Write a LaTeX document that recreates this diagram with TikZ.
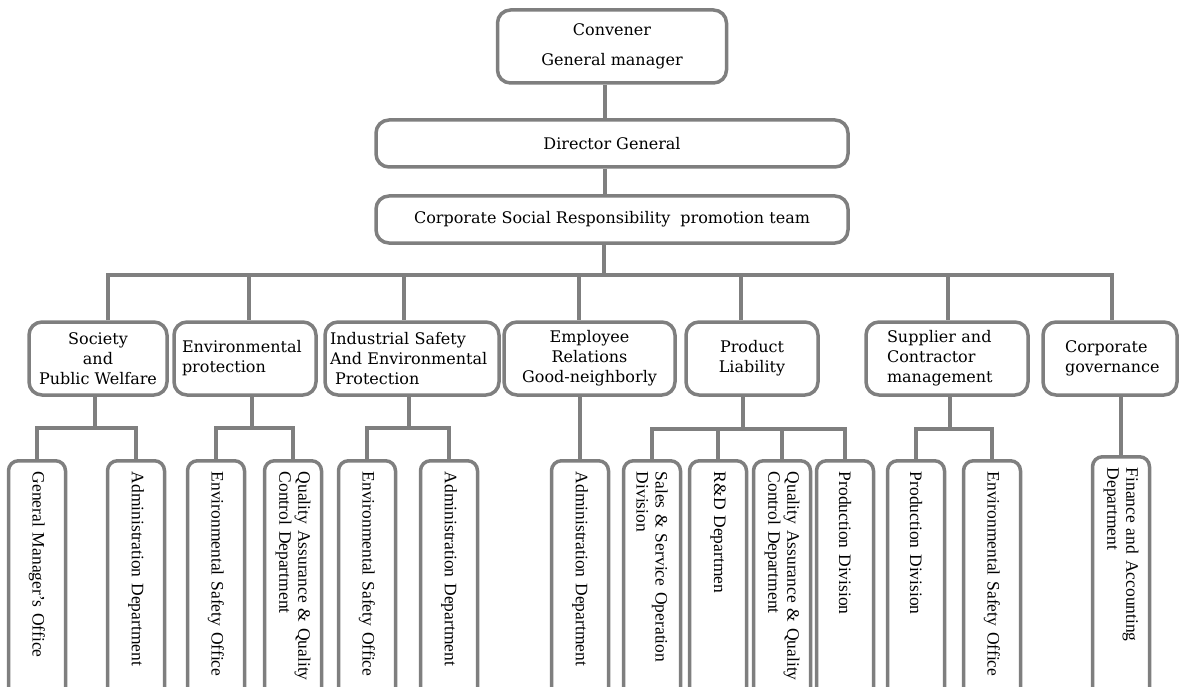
\documentclass[tikz,border=0pt]{standalone}
\usepackage{fontspec}
\newfontfamily\boxfont{DejaVu Serif}
\newfontfamily\deptfont{Liberation Serif}
\definecolor{linegray}{HTML}{7F7F7F}
\tikzset{
  unit/.style={draw=linegray, line width=3.5pt, rounded corners=13pt, fill=white, inner sep=0pt,
    minimum height=73pt, align=center, font=\boxfont\fontsize{16}{20}\selectfont},
  link/.style={draw=linegray, line width=3.8pt},
  dept/.style={unit, rounded corners=10pt, rotate=-90, anchor=west, minimum width=260pt,
    minimum height=57pt, text width=238pt, inner xsep=11pt, align=left,
    font=\deptfont\fontsize{17.5}{19}\selectfont},
}

\begin{document}
\begin{tikzpicture}[x=1pt,y=-1pt]
    \useasboundingbox (0,0) rectangle (1183,687);
    \clip (0,0) rectangle (1183,687);
    % top of the chart
    \node[unit, minimum width=229pt] (conv) at (612,46.5) {Convener\\[10pt]General manager};
    \node[unit, minimum width=472pt, minimum height=47pt] (dg) at (612,143.5) {Director General};
    \node[unit, minimum width=472pt, minimum height=47pt] (csr) at (612,219.5) {Corporate Social Responsibility\ \ promotion team};
    \coordinate (spine) at (605,0);
    \draw[link] (spine |- conv.south) -- (spine |- dg.north);
    \draw[link] (spine |- dg.south) -- (spine |- csr.north);
    % committees
    \node[unit, minimum width=138pt] (soc) at (98,358.5) {Society\\and\\Public Welfare};
    \node[unit, minimum width=142pt, text width=126pt, inner xsep=8pt, align=left] (env) at (245,358.5) {Environmental\\protection};
    \node[unit, minimum width=174pt, text width=164pt, inner xsep=5pt, align=left] (ind) at (412,358.5) {Industrial Safety\\And Environmental\\\hspace*{5pt}Protection};
    \node[unit, minimum width=171pt] (emp) at (589.5,358.5) {Employee\\Relations\\Good-neighborly};
    \node[unit, minimum width=132pt] (prod) at (752,358.5) {Product\\Liability};
    \node[unit, minimum width=162pt, text width=120pt, inner xsep=21pt, align=left] (sup) at (947,358.5) {Supplier and\\Contractor\\management};
    \node[unit, minimum width=134pt, text width=90pt, inner xsep=22pt, align=left] (corp) at (1110,358.5) {Corporate\\governance};
    \coordinate (bus) at (604,275);
    \coordinate (b1) at (108,275);
    \coordinate (b2) at (249,275);
    \coordinate (b3) at (404,275);
    \coordinate (b4) at (579,275);
    \coordinate (b5) at (741,275);
    \coordinate (b6) at (948,275);
    \coordinate (b7) at (1112,275);
    \draw[link] (bus |- csr.south) -- (bus);
    \draw[link] (b1 |- soc.north) -- (b1) -- (b7) -- (b7 |- corp.north);
    \foreach \b/\u in {b2/env, b3/ind, b4/emp, b5/prod, b6/sup}
        \draw[link] (\b) -- (\b |- \u.north);
    % departments
    \node[dept] (gmo) at (37,459) {General Manager’s Office};
    \node[dept] (sadm) at (136,459) {Administration Department};
    \node[dept] (ees) at (216,459) {Environmental Safety Office};
    \node[dept] (eqa) at (293,459) {Quality Assurance \& Quality\\Control Department};
    \node[dept] (ies) at (367,459) {Environmental Safety Office};
    \node[dept] (iadm) at (449,459) {Administration Department};
    \node[dept] (eadm) at (580,459) {Administration Department};
    \node[dept] (pss) at (652,459) {Sales \& Service Operation\\Division};
    \node[dept] (prd) at (718,459) {R\&D Departmen};
    \node[dept] (pqa) at (782,459) {Quality Assurance \& Quality\\Control Department};
    \node[dept] (ppd) at (845,459) {Production Division};
    \node[dept] (spd) at (916,459) {Production Division};
    \node[dept] (ses) at (992,459) {Environmental Safety Office};
    \node[dept] (cfa) at (1121,455) {Finance and Accounting\\Department};
    \coordinate (js) at (95,428);
    \coordinate (je) at (252,428);
    \coordinate (ji) at (409,428);
    \coordinate (jp) at (743,429);
    \coordinate (jq) at (950,429);
    \draw[link] (js |- soc.south) -- (js);
    \draw[link] (gmo.west) |- (js) -| (sadm.west);
    \draw[link] (je |- env.south) -- (je);
    \draw[link] (ees.west) |- (je) -| (eqa.west);
    \draw[link] (ji |- ind.south) -- (ji);
    \draw[link] (ies.west) |- (ji) -| (iadm.west);
    \draw[link] (eadm.west |- emp.south) -- (eadm.west);
    \draw[link] (jp |- prod.south) -- (jp);
    \draw[link] (pss.west) |- (jp) -| (ppd.west);
    \draw[link] (prd.west) -- (prd.west |- jp);
    \draw[link] (pqa.west) -- (pqa.west |- jp);
    \draw[link] (jq |- sup.south) -- (jq);
    \draw[link] (spd.west) |- (jq) -| (ses.west);
    \draw[link] (cfa.west |- corp.south) -- (cfa.west);
\end{tikzpicture}
\end{document}
